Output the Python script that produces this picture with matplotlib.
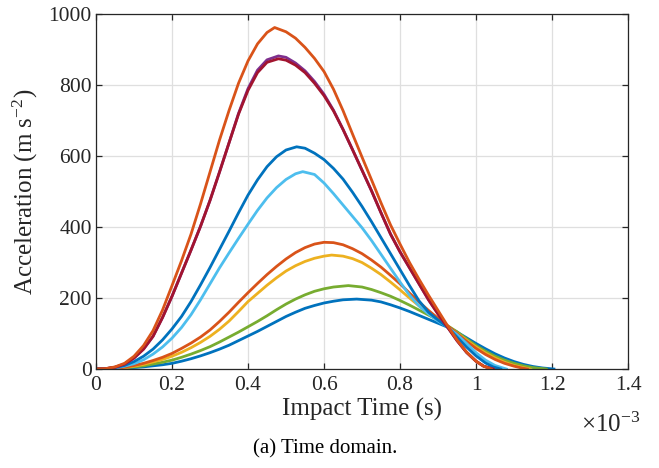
import matplotlib

matplotlib.use("Agg")

import matplotlib.pyplot as plt
import numpy as np
from matplotlib.ticker import FuncFormatter

plt.rcParams["font.family"] = ["Liberation Serif", "DejaVu Serif"]
plt.rcParams["mathtext.fontset"] = "custom"
plt.rcParams["mathtext.rm"] = "Liberation Serif"
plt.rcParams["mathtext.it"] = "Liberation Serif:italic"

# impact pulses, time in ms, acceleration in m/s^2
t_a1 = [0, 0.025, 0.05, 0.075, 0.1, 0.125, 0.15, 0.175, 0.2, 0.225, 0.25, 0.275,
        0.3, 0.325, 0.35, 0.375, 0.4, 0.425, 0.45, 0.47, 0.5, 0.525, 0.55,
        0.575, 0.6, 0.625, 0.65, 0.675, 0.7, 0.725, 0.75, 0.775, 0.8, 0.825,
        0.85, 0.875, 0.9, 0.925, 0.95, 0.975, 1.0, 1.02, 1.04]
acc_a1 = [0, 1, 6, 16, 36, 66, 108, 166, 235, 305, 380, 465,
          555, 645, 728, 805, 868, 916, 948, 962, 950, 932, 906,
          875, 838, 788, 728, 662, 597, 533, 468, 406, 352, 300,
          253, 208, 165, 122, 82, 48, 22, 8, 0]

t_a2 = [0, 0.025, 0.05, 0.075, 0.1, 0.125, 0.15, 0.175, 0.2, 0.225, 0.25, 0.275,
        0.3, 0.325, 0.35, 0.375, 0.4, 0.425, 0.45, 0.48, 0.5, 0.525, 0.55,
        0.575, 0.6, 0.625, 0.65, 0.675, 0.7, 0.725, 0.75, 0.775, 0.8, 0.825,
        0.85, 0.875, 0.9, 0.925, 0.95, 0.975, 1.0, 1.02, 1.045]
acc_a2 = [0, 1, 5, 14, 31, 56, 92, 145, 205, 270, 335, 402,
          475, 555, 637, 720, 790, 842, 871, 882, 878, 862, 840,
          810, 774, 729, 675, 618, 560, 502, 440, 380, 330, 285,
          240, 195, 155, 118, 80, 47, 22, 8, 0]

t_a3 = [0, 0.025, 0.05, 0.075, 0.1, 0.125, 0.15, 0.175, 0.2, 0.225, 0.25, 0.275,
        0.3, 0.325, 0.35, 0.375, 0.4, 0.425, 0.45, 0.48, 0.5, 0.525, 0.55,
        0.575, 0.6, 0.625, 0.65, 0.675, 0.7, 0.725, 0.75, 0.775, 0.8, 0.825,
        0.85, 0.875, 0.9, 0.925, 0.95, 0.975, 1.0, 1.02, 1.045]
acc_a3 = [0, 1, 5, 14, 31, 56, 92, 145, 205, 270, 335, 402,
          475, 555, 637, 718, 785, 835, 864, 874, 870, 856, 835,
          805, 770, 727, 675, 618, 560, 502, 440, 380, 330, 285,
          240, 195, 155, 118, 80, 47, 22, 8, 0]

t_a4 = [0, 0.025, 0.05, 0.075, 0.1, 0.125, 0.15, 0.175, 0.2, 0.225, 0.25, 0.275,
        0.3, 0.325, 0.35, 0.375, 0.4, 0.425, 0.45, 0.475, 0.5, 0.528, 0.55,
        0.575, 0.6, 0.625, 0.65, 0.675, 0.7, 0.725, 0.75, 0.775, 0.8, 0.825,
        0.85, 0.875, 0.9, 0.925, 0.95, 0.975, 1.0, 1.025, 1.045, 1.065]
acc_a4 = [0, 1, 4, 10, 21, 36, 56, 82, 113, 148, 190, 237,
          286, 337, 388, 440, 490, 533, 570, 598, 617, 626, 622,
          608, 590, 565, 535, 498, 458, 415, 370, 325, 280, 235,
          192, 160, 138, 118, 90, 62, 37, 17, 6, 0]

t_a5 = [0, 0.025, 0.05, 0.075, 0.1, 0.125, 0.15, 0.175, 0.2, 0.225, 0.25, 0.275,
        0.3, 0.325, 0.35, 0.375, 0.4, 0.425, 0.45, 0.475, 0.5, 0.525, 0.544,
        0.575, 0.6, 0.625, 0.65, 0.675, 0.7, 0.725, 0.75, 0.775, 0.8, 0.825,
        0.85, 0.875, 0.9, 0.925, 0.95, 0.975, 1.0, 1.025, 1.05, 1.08]
acc_a5 = [0, 1, 3, 8, 15, 26, 42, 62, 87, 117, 153, 195,
          240, 285, 327, 368, 408, 447, 482, 511, 534, 550, 556,
          548, 524, 494, 462, 430, 398, 362, 323, 284, 245, 208,
          178, 155, 135, 118, 97, 72, 46, 25, 10, 0]

t_b1 = [0, 0.025, 0.05, 0.075, 0.1, 0.125, 0.15, 0.175, 0.2, 0.225, 0.25, 0.275,
        0.3, 0.325, 0.35, 0.375, 0.4, 0.425, 0.45, 0.475, 0.5, 0.525, 0.55,
        0.575, 0.6, 0.625, 0.65, 0.675, 0.7, 0.725, 0.75, 0.775, 0.8, 0.825,
        0.85, 0.875, 0.9, 0.925, 0.95, 0.975, 1.0, 1.025, 1.05, 1.075, 1.1,
        1.12, 1.135]
acc_b1 = [0, 0.5, 2, 5, 10, 16, 24, 33, 44, 58, 73, 90,
          110, 134, 160, 188, 215, 241, 266, 289, 310, 328, 342,
          352, 357, 356, 350, 339, 325, 307, 287, 264, 240, 214,
          189, 165, 143, 122, 100, 78, 58, 41, 27, 16, 8,
          3, 0]

t_b2 = [0, 0.025, 0.05, 0.075, 0.1, 0.125, 0.15, 0.175, 0.2, 0.225, 0.25, 0.275,
        0.3, 0.325, 0.35, 0.375, 0.4, 0.425, 0.45, 0.475, 0.5, 0.525, 0.55,
        0.575, 0.6, 0.62, 0.65, 0.675, 0.7, 0.725, 0.75, 0.775, 0.8, 0.825,
        0.85, 0.875, 0.9, 0.925, 0.95, 0.975, 1.0, 1.025, 1.05, 1.075, 1.1,
        1.125, 1.142]
acc_b2 = [0, 0.5, 2, 4, 8, 13, 20, 27, 36, 47, 60, 75,
          92, 112, 135, 162, 190, 213, 236, 257, 276, 291, 303,
          312, 318, 321, 318, 311, 300, 284, 266, 245, 223, 200,
          178, 158, 139, 120, 101, 81, 62, 45, 31, 19, 10,
          4, 0]

t_b3 = [0, 0.025, 0.05, 0.075, 0.1, 0.125, 0.15, 0.175, 0.2, 0.225, 0.25, 0.275,
        0.3, 0.325, 0.35, 0.375, 0.4, 0.425, 0.45, 0.475, 0.5, 0.525, 0.55,
        0.575, 0.6, 0.625, 0.664, 0.7, 0.725, 0.75, 0.775, 0.8, 0.825,
        0.85, 0.875, 0.9, 0.925, 0.95, 0.975, 1.0, 1.025, 1.05, 1.075, 1.1,
        1.125, 1.15, 1.185]
acc_b3 = [0, 0.3, 1, 3, 6, 9, 14, 19, 25, 33, 42, 52,
          63, 76, 90, 104, 119, 134, 150, 167, 183, 197, 209,
          219, 226, 231, 235, 231, 224, 215, 205, 193, 180,
          166, 152, 138, 122, 105, 85, 66, 50, 36, 25, 16,
          9, 4, 0]

t_b4 = [0, 0.025, 0.05, 0.075, 0.1, 0.125, 0.15, 0.175, 0.2, 0.225, 0.25, 0.275,
        0.3, 0.325, 0.35, 0.375, 0.4, 0.425, 0.45, 0.475, 0.5, 0.525, 0.55,
        0.575, 0.6, 0.625, 0.65, 0.686, 0.725, 0.75, 0.775, 0.8, 0.825,
        0.85, 0.875, 0.9, 0.925, 0.95, 0.975, 1.0, 1.025, 1.05, 1.075, 1.1,
        1.125, 1.15, 1.175, 1.205]
acc_b4 = [0, 0.2, 1, 2, 4, 6, 9, 12, 16, 22, 29, 37,
          46, 56, 67, 80, 93, 106, 120, 134, 148, 160, 171,
          179, 186, 191, 195, 197, 194, 189, 181, 172, 162,
          151, 140, 129, 118, 104, 88, 72, 57, 43, 31, 21,
          13, 7, 3, 0]

x_ticks_ms = [0, 0.2, 0.4, 0.6, 0.8, 1.0, 1.2, 1.4]
y_ticks = [0, 200, 400, 600, 800, 1000]

series = [
    (t_b4, acc_b4, "#0072BD"),
    (t_b3, acc_b3, "#77AC30"),
    (t_b2, acc_b2, "#EDB120"),
    (t_b1, acc_b1, "#D95319"),
    (t_a5, acc_a5, "#4DBEEE"),
    (t_a4, acc_a4, "#0072BD"),
    (t_a2, acc_a2, "#7E2F8E"),
    (t_a3, acc_a3, "#A2142F"),
    (t_a1, acc_a1, "#D95319"),
]

fig = plt.figure(figsize=(6.59, 4.68), dpi=100)
ax = fig.add_axes([0.1457, 0.2115, 0.8073, 0.7585])

for t_ms, acc, color in series:
    ax.plot(
        np.asarray(t_ms) * 1e-3,
        acc,
        color=color,
        linewidth=2.0,
        solid_joinstyle="round",
    )

ax.set_xlim(0, 1.4e-3)
ax.set_ylim(0, 1000)
ax.set_xticks(np.asarray(x_ticks_ms) * 1e-3)
ax.set_yticks(y_ticks)
ax.xaxis.set_major_formatter(
    FuncFormatter(lambda v, _: f"{v * 1e3:g}"),
)

ax.grid(True, color="#DFDFDF", linewidth=0.9)
ax.set_axisbelow(True)
for spine in ax.spines.values():
    spine.set_color("#262626")
    spine.set_linewidth(0.9)

ax.tick_params(
    direction="in",
    top=True,
    right=True,
    length=4,
    width=0.9,
    color="#262626",
    labelsize=15.5,
    labelcolor="#262626",
)
ax.tick_params(axis="x", pad=5)
ax.tick_params(axis="y", pad=3)

ax.set_xlabel("Impact Time (s)", fontsize=18, color="#262626", labelpad=2)
ax.set_ylabel(
    r"Acceleration (m s$^{\mathrm{-2}}$)",
    fontsize=18,
    color="#262626",
    labelpad=6,
)

fig.text(0.971, 0.077, r"$\times\mathrm{10^{-3}}$", fontsize=18,
         color="#262626", ha="right", va="baseline")
fig.text(0.493, 0.040, "(a) Time domain.", fontsize=15,
         color="black", ha="center", va="center")

fig.savefig("out.png", dpi=100)
plt.close(fig)
